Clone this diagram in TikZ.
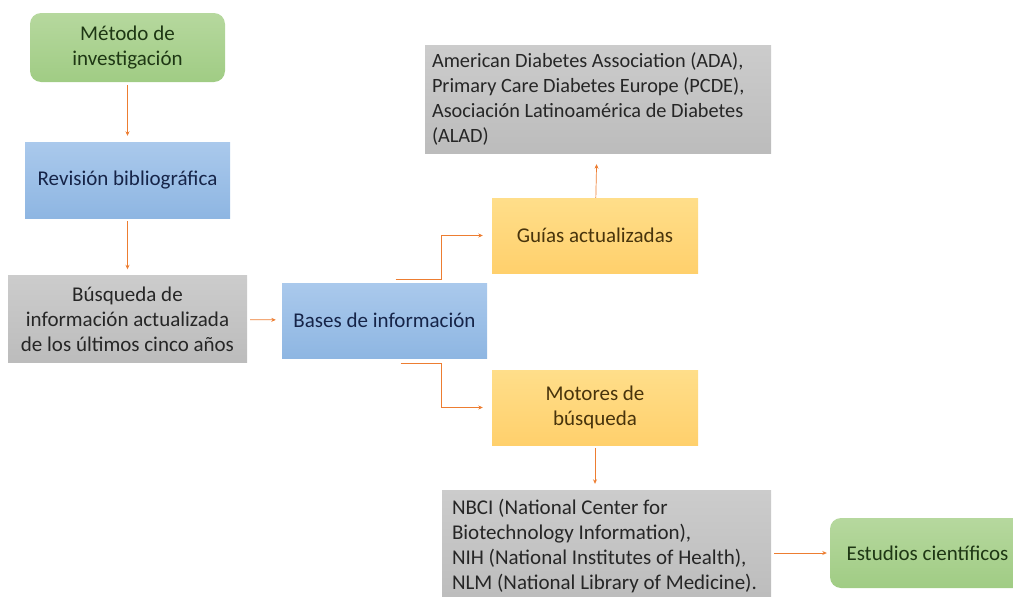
\documentclass[tikz,border=0pt]{standalone}
\usepackage{fontspec}
\setmainfont{Carlito}
\usepackage{tikz}
\usetikzlibrary{arrows.meta}
\definecolor{linkorange}{RGB}{237,125,49}
\definecolor{greentop}{RGB}{182,216,158}
\definecolor{greenbot}{RGB}{160,204,132}
\definecolor{bluetop}{RGB}{170,201,236}
\definecolor{bluebot}{RGB}{142,182,226}
\definecolor{graytop}{RGB}{204,204,204}
\definecolor{graybot}{RGB}{188,188,188}
\definecolor{orangetop}{RGB}{255,222,138}
\definecolor{orangebot}{RGB}{255,208,108}
\tikzset{>=stealth}
\tikzset{%
    box/.style={%
        inner sep=6pt, align=center,
        font=\fontsize{21}{25}\selectfont
    },
    green box/.style={box, rounded corners=11pt, top color=greentop, bottom color=greenbot, text={rgb,255:red,30;green,55;blue,20}},
    blue box/.style={box, top color=bluetop, bottom color=bluebot, text={rgb,255:red,22;green,36;blue,72}},
    gray box/.style={box, top color=graytop, bottom color=graybot, text={rgb,255:red,38;green,38;blue,38}},
    orange box/.style={box, top color=orangetop, bottom color=orangebot, text={rgb,255:red,72;green,52;blue,12}},
    link/.style={draw=linkorange, line width=0.7pt, -{Stealth[length=4.5pt,width=4pt]}, shorten <=3pt, shorten >=6pt}
}

\begin{document}
\begin{tikzpicture}[x=1pt,y=-1pt]
    \useasboundingbox (0,0) rectangle (1013,597);
    \node[green box, minimum width=195pt, minimum height=69pt] (metodo) at (127.5,47.5) {Método de\\investigación};
    \node[blue box, minimum width=205pt, minimum height=76pt] (revision) at (127.5,180) {Revisión bibliográfica};
    \node[gray box, minimum width=239pt, minimum height=87pt] (busqueda) at (127.5,319) {Búsqueda de\\información actualizada\\de los últimos cinco años};
    \node[blue box, minimum width=205pt, minimum height=75pt] (bases) at (384.5,320.5) {Bases de información};
    \node[orange box, minimum width=206pt, minimum height=75pt] (guias) at (595,235.5) {Guías actualizadas};
    \node[orange box, minimum width=206pt, minimum height=75pt] (motores) at (595,407.5) {Motores de\\búsqueda};
    \node[gray box, align=flush left, text width=332pt, inner xsep=7pt, minimum height=108pt, font=\fontsize{20.3}{25}\selectfont] (ada) at (598,99)
        {American Diabetes Association (ADA),\\Primary Care Diabetes Europe (PCDE),\\Asociación Latinoamérica de Diabetes\\(ALAD)};
    \node[gray box, align=flush left, text width=309pt, inner xsep=10pt, minimum height=112pt, font=\fontsize{21}{24.7}\selectfont] (nbci) at (606.5,546)
        {NBCI (National Center for\\Biotechnology Information),\\NIH (National Institutes of Health),\\NLM (National Library of Medicine).};
    \node[green box, minimum width=195pt, minimum height=70pt] (estudios) at (927.5,553) {Estudios científicos};

    \coordinate (gstart) at ([xshift=11pt,yshift=3pt]bases.north);
    \coordinate (mstart) at ([xshift=16pt,yshift=-5pt]bases.south);

    \draw[link] (metodo) -- (revision);
    \draw[link] (revision) -- (busqueda);
    \draw[link] (busqueda) -- (bases);
    \draw[link, shorten <=0pt, shorten >=9pt] (gstart) -| ([xshift=-50pt]guias.west) -- (guias.west);
    \draw[link, shorten <=0pt, shorten >=9pt] (mstart) -| ([xshift=-50pt]motores.west) -- (motores.west);
    \draw[link, shorten <=0pt, shorten >=11pt] (guias) -- (ada);
    \draw[link] (motores) -- (motores |- nbci.north);
    \draw[link, shorten >=3pt] (nbci.east |- estudios) -- (estudios);
\end{tikzpicture}
\end{document}
